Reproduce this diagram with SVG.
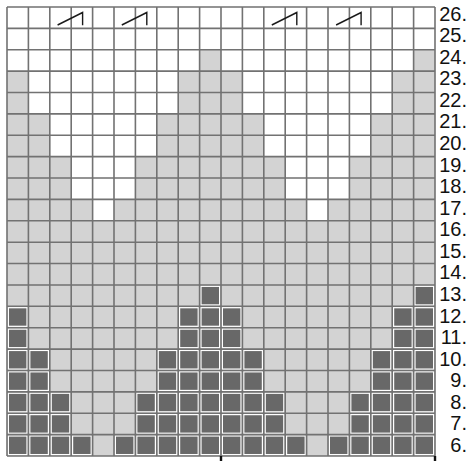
<svg xmlns="http://www.w3.org/2000/svg" xmlns:xlink="http://www.w3.org/1999/xlink" width="468" height="461" viewBox="0 0 468 461">
<style>
.w{fill:#ffffff}
.grid{fill:none;stroke:#727272;stroke-width:1.6}
.dec{fill:none;stroke:#1a1a1a;stroke-width:1.4;stroke-linejoin:miter}
.lab{font-family:"Liberation Sans",Arial,sans-serif;font-size:20px;fill:#111;text-anchor:end}
.tick{fill:#111}
</style>
<defs>
<rect id="d" x="1.4" y="1.4" width="18.6" height="18.58" fill="#686868" stroke="#ffffff" stroke-width="1.2"/>
</defs>
<rect width="468" height="461" fill="#ffffff"/>
<g id="light">
<rect x="7" y="7" width="428" height="449" fill="#d3d3d3"/>
</g>
<g id="white">
<rect class="w" x="7" y="7" width="428" height="42.76"/>
<rect class="w" x="7" y="49.76" width="192.6" height="21.38"/>
<rect class="w" x="221" y="49.76" width="192.6" height="21.38"/>
<rect class="w" x="28.4" y="71.14" width="149.8" height="42.76"/>
<rect class="w" x="242.4" y="71.14" width="149.8" height="42.76"/>
<rect class="w" x="49.8" y="113.9" width="107" height="42.76"/>
<rect class="w" x="263.8" y="113.9" width="107" height="42.76"/>
<rect class="w" x="71.2" y="156.66" width="64.2" height="42.76"/>
<rect class="w" x="285.2" y="156.66" width="64.2" height="42.76"/>
<rect class="w" x="92.6" y="199.42" width="21.4" height="21.38"/>
<rect class="w" x="306.6" y="199.42" width="21.4" height="21.38"/>
</g>
<g id="dark">
<g id="row13">
<use xlink:href="#d" x="199.6" y="284.94"/><use xlink:href="#d" x="413.6" y="284.94"/>
</g>
<g id="row12">
<use xlink:href="#d" x="7" y="306.32"/><use xlink:href="#d" x="178.2" y="306.32"/><use xlink:href="#d" x="199.6" y="306.32"/><use xlink:href="#d" x="221" y="306.32"/><use xlink:href="#d" x="392.2" y="306.32"/><use xlink:href="#d" x="413.6" y="306.32"/>
</g>
<g id="row11">
<use xlink:href="#d" x="7" y="327.7"/><use xlink:href="#d" x="178.2" y="327.7"/><use xlink:href="#d" x="199.6" y="327.7"/><use xlink:href="#d" x="221" y="327.7"/><use xlink:href="#d" x="392.2" y="327.7"/><use xlink:href="#d" x="413.6" y="327.7"/>
</g>
<g id="row10">
<use xlink:href="#d" x="7" y="349.08"/><use xlink:href="#d" x="28.4" y="349.08"/><use xlink:href="#d" x="156.8" y="349.08"/><use xlink:href="#d" x="178.2" y="349.08"/><use xlink:href="#d" x="199.6" y="349.08"/><use xlink:href="#d" x="221" y="349.08"/><use xlink:href="#d" x="242.4" y="349.08"/><use xlink:href="#d" x="370.8" y="349.08"/><use xlink:href="#d" x="392.2" y="349.08"/><use xlink:href="#d" x="413.6" y="349.08"/>
</g>
<g id="row9">
<use xlink:href="#d" x="7" y="370.46"/><use xlink:href="#d" x="28.4" y="370.46"/><use xlink:href="#d" x="156.8" y="370.46"/><use xlink:href="#d" x="178.2" y="370.46"/><use xlink:href="#d" x="199.6" y="370.46"/><use xlink:href="#d" x="221" y="370.46"/><use xlink:href="#d" x="242.4" y="370.46"/><use xlink:href="#d" x="370.8" y="370.46"/><use xlink:href="#d" x="392.2" y="370.46"/><use xlink:href="#d" x="413.6" y="370.46"/>
</g>
<g id="row8">
<use xlink:href="#d" x="7" y="391.84"/><use xlink:href="#d" x="28.4" y="391.84"/><use xlink:href="#d" x="49.8" y="391.84"/><use xlink:href="#d" x="135.4" y="391.84"/><use xlink:href="#d" x="156.8" y="391.84"/><use xlink:href="#d" x="178.2" y="391.84"/><use xlink:href="#d" x="199.6" y="391.84"/><use xlink:href="#d" x="221" y="391.84"/><use xlink:href="#d" x="242.4" y="391.84"/><use xlink:href="#d" x="263.8" y="391.84"/><use xlink:href="#d" x="349.4" y="391.84"/><use xlink:href="#d" x="370.8" y="391.84"/><use xlink:href="#d" x="392.2" y="391.84"/><use xlink:href="#d" x="413.6" y="391.84"/>
</g>
<g id="row7">
<use xlink:href="#d" x="7" y="413.22"/><use xlink:href="#d" x="28.4" y="413.22"/><use xlink:href="#d" x="49.8" y="413.22"/><use xlink:href="#d" x="135.4" y="413.22"/><use xlink:href="#d" x="156.8" y="413.22"/><use xlink:href="#d" x="178.2" y="413.22"/><use xlink:href="#d" x="199.6" y="413.22"/><use xlink:href="#d" x="221" y="413.22"/><use xlink:href="#d" x="242.4" y="413.22"/><use xlink:href="#d" x="263.8" y="413.22"/><use xlink:href="#d" x="349.4" y="413.22"/><use xlink:href="#d" x="370.8" y="413.22"/><use xlink:href="#d" x="392.2" y="413.22"/><use xlink:href="#d" x="413.6" y="413.22"/>
</g>
<g id="row6">
<use xlink:href="#d" x="7" y="434.6"/><use xlink:href="#d" x="28.4" y="434.6"/><use xlink:href="#d" x="49.8" y="434.6"/><use xlink:href="#d" x="71.2" y="434.6"/><use xlink:href="#d" x="114" y="434.6"/><use xlink:href="#d" x="135.4" y="434.6"/><use xlink:href="#d" x="156.8" y="434.6"/><use xlink:href="#d" x="178.2" y="434.6"/><use xlink:href="#d" x="199.6" y="434.6"/><use xlink:href="#d" x="221" y="434.6"/><use xlink:href="#d" x="242.4" y="434.6"/><use xlink:href="#d" x="263.8" y="434.6"/><use xlink:href="#d" x="285.2" y="434.6"/><use xlink:href="#d" x="328" y="434.6"/><use xlink:href="#d" x="349.4" y="434.6"/><use xlink:href="#d" x="370.8" y="434.6"/><use xlink:href="#d" x="392.2" y="434.6"/><use xlink:href="#d" x="413.6" y="434.6"/>
</g>
</g>
<g id="gridlines">
<path class="grid" d="M7 7V456M28.4 7V456M49.8 7V456M71.2 7V456M92.6 7V456M114 7V456M135.4 7V456M156.8 7V456M178.2 7V456M199.6 7V456M221 7V456M242.4 7V456M263.8 7V456M285.2 7V456M306.6 7V456M328 7V456M349.4 7V456M370.8 7V456M392.2 7V456M413.6 7V456M435 7V456"/>
<path class="grid" d="M7 7H435M7 28.38H435M7 49.76H435M7 71.14H435M7 92.52H435M7 113.9H435M7 135.28H435M7 156.66H435M7 178.04H435M7 199.42H435M7 220.8H435M7 242.18H435M7 263.56H435M7 284.94H435M7 306.32H435M7 327.7H435M7 349.08H435M7 370.46H435M7 391.84H435M7 413.22H435M7 434.6H435M7 456H435"/>
</g>
<g id="decreases">
<polyline class="dec" points="57.6,25 82.6,12.5 82.6,25.2"/>
<polyline class="dec" points="121.8,25 146.8,12.5 146.8,25.2"/>
<polyline class="dec" points="271.8,25 296.8,12.5 296.8,25.2"/>
<polyline class="dec" points="336.1,25 361.1,12.5 361.1,25.2"/>
</g>
<g id="labels">
<text class="lab" x="467" y="20.5">26.</text>
<text class="lab" x="467" y="42.1">25.</text>
<text class="lab" x="467" y="63.7">24.</text>
<text class="lab" x="467" y="85.2">23.</text>
<text class="lab" x="467" y="106.8">22.</text>
<text class="lab" x="467" y="128.4">21.</text>
<text class="lab" x="467" y="149.9">20.</text>
<text class="lab" x="467" y="171.5">19.</text>
<text class="lab" x="467" y="193.1">18.</text>
<text class="lab" x="467" y="214.7">17.</text>
<text class="lab" x="467" y="236.3">16.</text>
<text class="lab" x="467" y="257.8">15.</text>
<text class="lab" x="467" y="279.4">14.</text>
<text class="lab" x="467" y="301">13.</text>
<text class="lab" x="467" y="322.5">12.</text>
<text class="lab" x="467" y="344.1">11.</text>
<text class="lab" x="467" y="365.7">10.</text>
<text class="lab" x="467" y="387.3">9.</text>
<text class="lab" x="467" y="408.9">8.</text>
<text class="lab" x="467" y="430.4">7.</text>
<text class="lab" x="467" y="452">6.</text>
</g>
<g id="ticks">
<rect class="tick" x="219.8" y="456" width="2.4" height="5"/>
<rect class="tick" x="433.8" y="456" width="2.4" height="5"/>
</g>
</svg>
